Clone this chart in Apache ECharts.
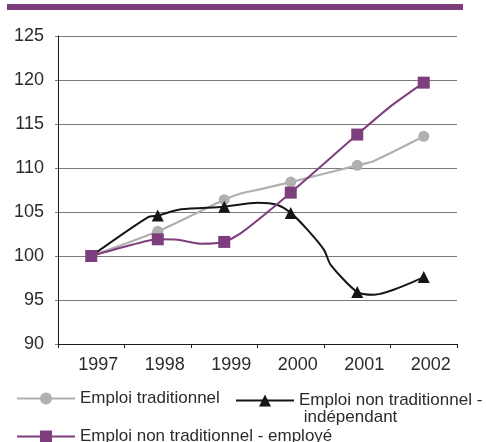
<!DOCTYPE html>
<html>
<head>
<meta charset="utf-8">
<script src="https://cdn.jsdelivr.net/npm/echarts@6/dist/echarts.min.js"></script>
<style>
  html, body { margin: 0; padding: 0; background: #fff; }
  #chart { width: 486px; height: 442px; }
</style>
</head>
<body>
<div id="chart"></div>
<script>
// Category labels along the bottom axis
const years = ['1997', '1998', '1999', '2000', '2001', '2002'];

// Index values (1997 = 100); points at whole years carry a marker,
// the in-between points shape the curve
const traditionnel = [
  [1997, 100], [1998, 102.8], [1999, 106.4], [1999.25, 107.1], [1999.55, 107.6],
  [2000, 108.4], [2001, 110.3], [2001.25, 110.8], [2002, 113.6]
];
const independant = [
  [1997, 100], [1997.85, 104.4], [1998, 104.6], [1998.35, 105.3], [1999, 105.6],
  [1999.5, 106.05], [1999.8, 105.8], [2000, 104.9], [2000.25, 103.0],
  [2000.5, 100.7], [2000.6, 99.0], [2001, 95.9], [2001.25, 95.6], [2002, 97.6]
];
const employe = [
  [1997, 100], [1997.5, 101.05], [1998, 101.9], [1998.3, 101.85], [1998.65, 101.4],
  [1999, 101.6], [1999.25, 102.6], [2000, 107.2], [2001, 113.8], [2001.5, 117.0],
  [2002, 119.7]
];

const yTicks = { min: 90, max: 125, step: 5 };

const FONT = '"Liberation Sans", Arial, sans-serif';
const TEXT = '#2b2b2b';

function toData(points) {
  return points.map(p => Number.isInteger(p[0]) ? p : { value: p, symbol: 'none' });
}

const chart = echarts.init(document.getElementById('chart'), null, { renderer: 'canvas' });

const legendBase = {
  orient: 'horizontal',
  itemWidth: 58,
  itemHeight: 15,
  itemGap: 0,
  selectedMode: false,
  textStyle: { fontFamily: FONT, fontSize: 17, color: TEXT }
};

chart.setOption({
  backgroundColor: '#ffffff',
  animation: false,
  graphic: [{
    type: 'rect',
    shape: { x: 7, y: 4, width: 456, height: 6 },
    style: { fill: '#7e3d7c' }
  }],
  grid: { left: 58, right: 29, top: 36, bottom: 98, containLabel: false },
  legend: [
    Object.assign({}, legendBase, { data: ['Emploi traditionnel'], left: 11, top: 385 }),
    Object.assign({}, legendBase, {
      data: ['Emploi non traditionnel - indépendant'], left: 230, top: 370,
      // blank first line keeps the icon level with the first line of text
      formatter: n => '\n' + n.replace(' - ', ' -\n '),
      textStyle: { fontFamily: FONT, fontSize: 17, color: TEXT, lineHeight: 17 }
    }),
    Object.assign({}, legendBase, { data: ['Emploi non traditionnel - employé'], left: 11, top: 423 })
  ],
  xAxis: [
    {
      type: 'category',
      data: years,
      boundaryGap: true,
      axisLine: { show: true, lineStyle: { color: '#1a1a1a', width: 1 } },
      axisTick: { show: true, length: 4, lineStyle: { color: '#1a1a1a' } },
      axisLabel: { fontFamily: FONT, fontSize: 18, color: TEXT, margin: 12, padding: [0, 0, 0, 14] },
      splitLine: { show: false }
    },
    {
      type: 'value',
      min: 1996.5,
      max: 2002.5,
      show: false,
      splitLine: { show: false }
    }
  ],
  yAxis: {
    type: 'value',
    min: yTicks.min,
    max: yTicks.max,
    interval: yTicks.step,
    axisLine: { show: true, lineStyle: { color: '#1a1a1a', width: 1 } },
    axisTick: { show: true, length: 3, lineStyle: { color: '#7a7a7a' } },
    axisLabel: { fontFamily: FONT, fontSize: 18, color: TEXT, margin: 14 },
    splitLine: { show: true, lineStyle: { color: '#7a7a7a', width: 1 } }
  },
  series: [
    {
      name: 'Emploi traditionnel',
      type: 'line',
      xAxisIndex: 1,
      smooth: 0.25,
      symbol: 'circle',
      symbolSize: 11,
      showAllSymbol: true,
      color: '#b0b0b2',
      lineStyle: { color: '#b0b0b2', width: 2.2 },
      itemStyle: { color: '#b0b0b2' },
      data: toData(traditionnel),
      z: 2
    },
    {
      name: 'Emploi non traditionnel - indépendant',
      type: 'line',
      xAxisIndex: 1,
      smooth: 0.25,
      symbol: 'triangle',
      symbolSize: 12,
      showAllSymbol: true,
      color: '#151515',
      lineStyle: { color: '#151515', width: 2 },
      itemStyle: { color: '#151515' },
      data: toData(independant),
      z: 3
    },
    {
      name: 'Emploi non traditionnel - employé',
      type: 'line',
      xAxisIndex: 1,
      smooth: 0.2,
      symbol: 'rect',
      symbolSize: 12,
      showAllSymbol: true,
      color: '#7e3d7c',
      lineStyle: { color: '#7e3d7c', width: 2 },
      itemStyle: { color: '#7e3d7c' },
      data: toData(employe),
      z: 4
    }
  ]
});
</script>
</body>
</html>
